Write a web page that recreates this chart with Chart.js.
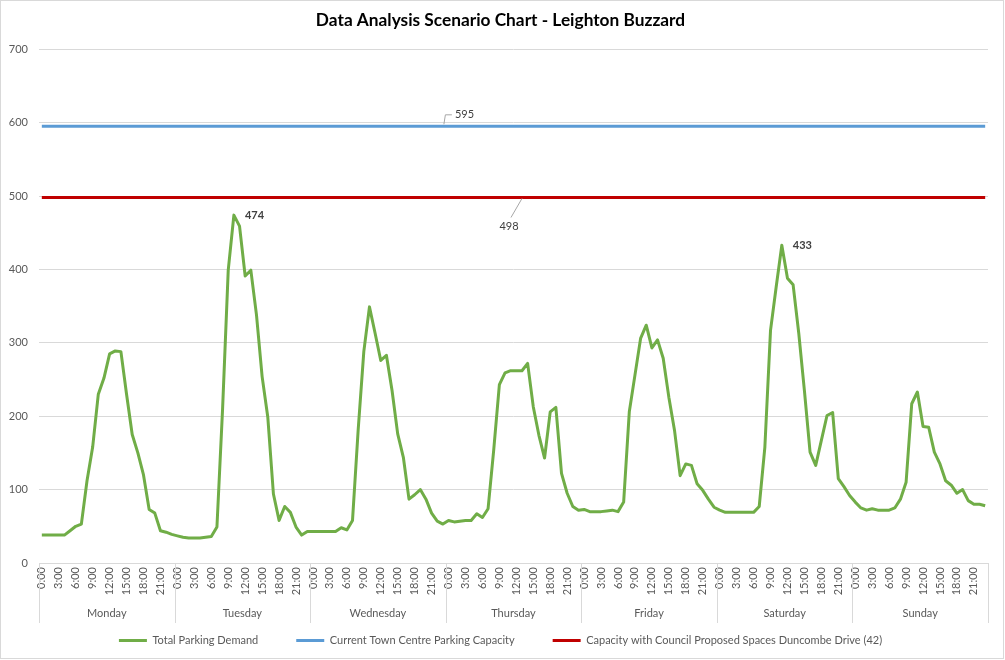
<!DOCTYPE html>
<html><head><meta charset="utf-8">
<script src="https://cdn.jsdelivr.net/npm/chart.js@4.4.1/dist/chart.umd.min.js"></script>
<style>html,body{margin:0;padding:0;background:#fff;} #wrap{position:relative;width:1005px;height:660px;}</style>
</head><body><div id="wrap"><canvas id="c" width="1005" height="660"></canvas></div>
<script>
const days = ['Monday','Tuesday','Wednesday','Thursday','Friday','Saturday','Sunday'];
const hourLabels = ['0:00','1:00','2:00','3:00','4:00','5:00','6:00','7:00','8:00','9:00','10:00','11:00','12:00','13:00','14:00','15:00','16:00','17:00','18:00','19:00','20:00','21:00','22:00','23:00'];
const monday    = [38,38,38,38,38,44,50,53,112,158,230,252,285,289,288,230,175,150,120,73,68,44,42,39];
const tuesday   = [37,35,34,34,34,35,36,49,210,399,474,459,391,399,338,254,199,94,58,77,69,49,38,43];
const wednesday = [43,43,43,43,43,48,45,58,181,288,349,313,276,283,235,176,144,87,93,100,87,68,57,53];
const thursday  = [58,56,57,58,58,67,62,74,154,243,259,262,262,262,272,213,174,143,206,212,122,95,77,72];
const friday    = [73,70,70,70,71,72,70,83,206,256,306,324,293,304,279,226,181,119,135,133,108,99,87,76];
const saturday  = [72,69,69,69,69,69,69,77,158,317,376,433,388,379,313,235,151,133,167,201,205,115,104,92];
const sunday    = [83,75,72,74,72,72,72,75,87,110,217,233,186,185,151,135,112,106,95,100,85,80,80,78];
const currentCapacity = 595;
const proposedCapacity = 498;
const yMin = 0, yMax = 700, yStep = 100;
const peakLabelIndexes = [34, 131];
const currentLabelIndex = 71;
const proposedLabelIndex = 85;
const seriesNames = ['Total Parking Demand','Current Town Centre Parking Capacity','Capacity with Council Proposed Spaces Duncombe Drive (42)'];
const title = 'Data Analysis Scenario Chart - Leighton Buzzard';

const FONT = 'Lato';
const FS = 11;
const labels = [];
days.forEach(() => hourLabels.forEach(h => labels.push(h)));
const demand = [].concat(monday, tuesday, wednesday, thursday, friday, saturday, sunday);
const currentLine = labels.map(() => currentCapacity);
const proposedLine = labels.map(() => proposedCapacity);

const dayAxisPlugin = {
  id: 'dayAxis',
  afterDraw(chart) {
    const x = chart.scales.x, ctx = chart.ctx, area = chart.chartArea;
    const n = labels.length;
    const step = x.getPixelForValue(1) - x.getPixelForValue(0);
    ctx.save();
    ctx.strokeStyle = '#d9d9d9'; ctx.lineWidth = 1;
    for (let d = 0; d <= days.length; d++) {
      const idx = d * hourLabels.length;
      const px = idx >= n ? x.getPixelForValue(n - 1) + step / 2 : x.getPixelForValue(idx) - step / 2;
      const xx = Math.round(px) + 0.5;
      ctx.beginPath(); ctx.moveTo(xx, area.bottom); ctx.lineTo(xx, area.bottom + 60); ctx.stroke();
    }
    ctx.font = FS + 'px ' + FONT; ctx.fillStyle = '#595959'; ctx.textAlign = 'center'; ctx.textBaseline = 'middle';
    days.forEach((d, i) => {
      const a = x.getPixelForValue(i * 24), b = x.getPixelForValue(i * 24 + 23);
      ctx.fillText(d, (a + b) / 2, area.bottom + 50);
    });
    ctx.strokeStyle = '#d9d9d9';
    ctx.strokeRect(0.5, 0.5, chart.width - 2, chart.height - 2);
    ctx.restore();
  }
};

const valueLabelPlugin = {
  id: 'valueLabels',
  afterDatasetsDraw(chart) {
    const ctx = chart.ctx;
    ctx.save();
    ctx.fillStyle = '#404040'; ctx.textBaseline = 'middle'; ctx.textAlign = 'left';
    ctx.font = 'bold ' + FS + 'px ' + FONT;
    const dm = chart.getDatasetMeta(0);
    peakLabelIndexes.forEach(i => {
      const p = dm.data[i];
      ctx.fillText(String(demand[i]), p.x + 11, p.y);
    });
    ctx.font = FS + 'px ' + FONT;
    ctx.strokeStyle = '#a6a6a6'; ctx.lineWidth = 1;
    const p1 = chart.getDatasetMeta(1).data[currentLabelIndex];
    ctx.beginPath(); ctx.moveTo(p1.x + 1, p1.y - 2); ctx.lineTo(p1.x + 2.5, p1.y - 11.5); ctx.lineTo(p1.x + 9, p1.y - 11.5); ctx.stroke();
    ctx.fillText(String(currentLine[currentLabelIndex]), p1.x + 12, p1.y - 12);
    const p2 = chart.getDatasetMeta(2).data[proposedLabelIndex];
    ctx.beginPath(); ctx.moveTo(p2.x, p2.y + 1); ctx.lineTo(p2.x - 11, p2.y + 20); ctx.stroke();
    ctx.textAlign = 'center';
    ctx.fillText(String(proposedLine[proposedLabelIndex]), p2.x - 13, p2.y + 29);
    ctx.restore();
  }
};

new Chart(document.getElementById('c'), {
  type: 'line',
  data: {
    labels: labels,
    datasets: [
      { label: seriesNames[0], data: demand, borderColor: '#70AD47', backgroundColor: '#70AD47', borderWidth: 3 },
      { label: seriesNames[1], data: currentLine, borderColor: '#5B9BD5', backgroundColor: '#5B9BD5', borderWidth: 3 },
      { label: seriesNames[2], data: proposedLine, borderColor: '#C00000', backgroundColor: '#C00000', borderWidth: 3 }
    ]
  },
  options: {
    responsive: false, animation: false, devicePixelRatio: 1,
    elements: { point: { radius: 0, hoverRadius: 0 }, line: { tension: 0, borderJoinStyle: 'round', borderCapStyle: 'butt' } },
    layout: { padding: { left: 0, right: 4, top: 0, bottom: 4 } },
    plugins: {
      title: { display: true, text: title, color: '#000', font: { family: FONT, size: 17.3, weight: 'bold' }, padding: { top: 10.5, bottom: 18 } },
      legend: { position: 'bottom', labels: { usePointStyle: true, pointStyle: 'line', pointStyleWidth: 28, padding: 38, color: '#595959', font: { family: FONT, size: FS } } },
      tooltip: { enabled: false }
    },
    scales: {
      x: {
        type: 'category', offset: true,
        grid: { display: true, drawOnChartArea: false, drawTicks: false },
        border: { display: true, color: '#d9d9d9', width: 1 },
        ticks: { autoSkip: false, minRotation: 90, maxRotation: 90, padding: 4, color: '#595959', font: { family: FONT, size: FS },
          callback: function (v, i) { return i % 3 === 0 ? this.getLabelForValue(v) : ''; } },
        afterFit: s => { s.height = 34; }
      },
      y: {
        min: yMin, max: yMax,
        grid: { color: '#d9d9d9', drawTicks: false },
        border: { display: false },
        ticks: { stepSize: yStep, padding: 11, color: '#595959', font: { family: FONT, size: FS } },
        afterFit: s => { s.width = 39; }
      },
      y2: {
        position: 'right', min: yMin, max: yMax,
        grid: { display: false }, border: { display: false }, ticks: { display: false },
        afterFit: s => { s.width = 13; }
      }
    }
  },
  plugins: [dayAxisPlugin, valueLabelPlugin]
});
</script>
</body></html>
